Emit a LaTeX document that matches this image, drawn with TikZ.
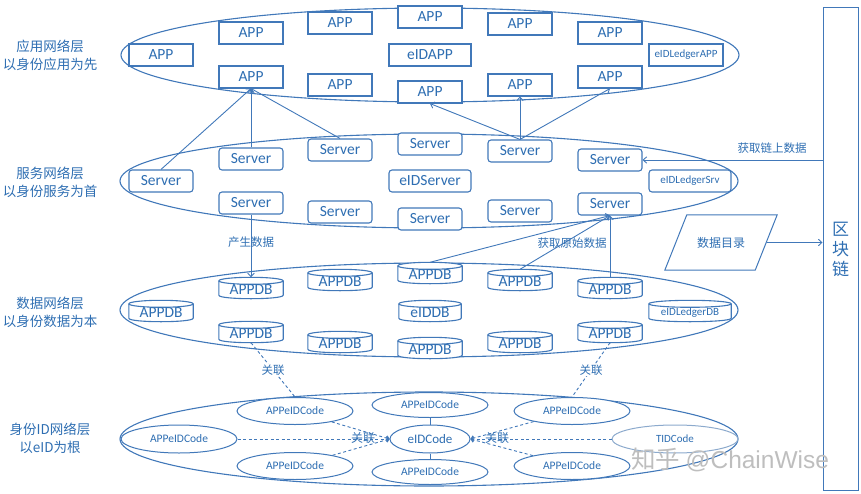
\documentclass[tikz,border=0pt]{standalone}
\usepackage{fontspec}
\setmainfont{Carlito}
\newfontfamily\cjk{Noto Sans CJK SC}
\newfontfamily\wmfont{Liberation Sans}
\usetikzlibrary{shapes.geometric,arrows.meta,calc}
\definecolor{ln}{RGB}{65,120,185}
\definecolor{tx}{RGB}{46,110,178}
\definecolor{lnlight}{RGB}{140,170,205}
\definecolor{wm}{RGB}{190,190,190}

\tikzset{
  layer/.style={ellipse, draw=ln, line width=1.1pt, minimum width=618pt, minimum height=94pt, inner sep=0},
  appbox/.style={rectangle, draw=ln, line width=1.1pt, fill=white, minimum width=64pt, minimum height=22pt, inner sep=0, text=tx, font=\fontsize{15.5}{17}\selectfont},
  smallfont/.style={font=\fontsize{11}{13}\selectfont},
  srvbox/.style={appbox, rounded corners=3pt},
  dbb/.style={rectangle, minimum height=21pt, inner sep=0},
  dbt/.style={text=tx, inner sep=0, font=\fontsize{15.5}{17}\selectfont},
  idel/.style={ellipse, draw=ln, line width=1pt, fill=white, minimum width=116pt, minimum height=27pt, inner sep=0, text=tx, font=\fontsize{11.5}{13}\selectfont},
  lbl/.style={text=tx, font=\cjk\fontsize{13.5}{18}\selectfont, align=center},
  elbl/.style={text=tx, inner sep=1pt, font=\cjk\fontsize{11.5}{13}\selectfont},
  arr/.style={draw=ln, line width=0.9pt, -{Straight Barb[length=3.5pt,width=6.5pt]}},
  dsh/.style={draw=ln, line width=0.9pt, dash pattern=on 3pt off 2.5pt},
  darr/.style={dsh, -{Straight Barb[length=2.5pt,width=5pt]}},
  cylline/.style={draw=ln, line width=1.1pt}
}

\newcommand\dbn[5]{%
  \node[dbb, minimum width=#4pt] (#1) at (#2,#3) {};
  \filldraw[cylline, fill=white] let \p1=(#1.north west), \p2=(#1.south east), \n1={(\x2-\x1)/2} in
    (\x1,\y1-3.5pt) -- (\x1,\y2+3.5pt) .. controls (\x1,\y2-1.17pt) and (\x2,\y2-1.17pt) .. (\x2,\y2+3.5pt)
    -- (\x2,\y1-3.5pt) arc[start angle=0,end angle=180,x radius=\n1,y radius=3.5pt] -- cycle;
  \draw[cylline] let \p1=(#1.north west), \p2=(#1.south east), \n1={(\x2-\x1)/2} in
    (\x1,\y1-3.5pt) arc[start angle=180,end angle=360,x radius=\n1,y radius=3.5pt];
  \node[dbt] (#1t) at ([yshift=-1.5pt]#1.center) {#5};
}

\begin{document}
\begin{tikzpicture}[x=1pt,y=-1pt]
\useasboundingbox (0,0) rectangle (861,494);

% layer labels
\node[lbl] (t1) at (50,55) {应用网络层\\以身份应用为先};
\node[lbl] (t2) at (50,182) {服务网络层\\以身份服务为首};
\node[lbl] (t3) at (50,312) {数据网络层\\以身份数据为本};
\node[lbl] (t4) at (50,438) {身份ID网络层\\以eID为根};

% layer ellipses
\node[layer] (L1) at (430,55) {};
\node[layer] (L2) at (429,181) {};
\node[layer] (L3) at (429,310) {};
\node[layer] (L4) at (429,439) {};

% APP layer
\node[appbox] (A1) at (161,55) {APP};
\node[appbox] (A2t) at (251,33) {APP};
\node[appbox] (A2b) at (251,77) {APP};
\node[appbox] (A3t) at (340,23) {APP};
\node[appbox] (A3b) at (340,85) {APP};
\node[appbox] (A4t) at (430,17) {APP};
\node[appbox, minimum width=82pt] (EA) at (430,55) {eIDAPP};
\node[appbox] (A4b) at (430,92) {APP};
\node[appbox] (A5t) at (520,24) {APP};
\node[appbox] (A5b) at (520,85) {APP};
\node[appbox] (A6t) at (610,33) {APP};
\node[appbox] (A6b) at (610,77) {APP};
\node[appbox, smallfont, minimum width=74pt] (LA) at (686,55) {eIDLedgerAPP};

% Server layer
\node[srvbox] (S1) at (161,181) {Server};
\node[srvbox] (S2t) at (251,159) {Server};
\node[srvbox] (S2b) at (251,203) {Server};
\node[srvbox] (S3t) at (340,150) {Server};
\node[srvbox] (S3b) at (340,212) {Server};
\node[srvbox] (S4t) at (430,144) {Server};
\node[srvbox, minimum width=82pt] (ES) at (430,181) {eIDServer};
\node[srvbox] (S4b) at (430,219) {Server};
\node[srvbox] (S5t) at (520,151) {Server};
\node[srvbox] (S5b) at (520,211) {Server};
\node[srvbox] (S6t) at (610,160) {Server};
\node[srvbox] (S6b) at (610,204) {Server};
\node[srvbox, smallfont, minimum width=82pt] (LS) at (690,181) {eIDLedgerSrv};

% Data layer
\dbn{D1}{161}{311}{64}{APPDB}
\dbn{D2t}{251}{288}{64}{APPDB}
\dbn{D2b}{251}{332}{64}{APPDB}
\dbn{D3t}{340}{280}{64}{APPDB}
\dbn{D3b}{340}{342}{64}{APPDB}
\dbn{D4t}{430}{273}{64}{APPDB}
\dbn{ED}{430}{311}{62}{eIDDB}
\dbn{D4b}{430}{348}{64}{APPDB}
\dbn{D5t}{520}{280}{64}{APPDB}
\dbn{D5b}{520}{342}{64}{APPDB}
\dbn{D6t}{610}{288}{64}{APPDB}
\dbn{D6b}{610}{332}{64}{APPDB}
\dbn{LD}{690}{311}{82}{\fontsize{11}{13}\selectfont eIDLedgerDB}

% ID layer
\node[idel, minimum height=28pt] (C1) at (179,439) {APPeIDCode};
\node[idel] (C2) at (295,411) {APPeIDCode};
\node[idel] (C3) at (295,466) {APPeIDCode};
\node[idel, minimum height=25pt] (C6) at (430,405) {APPeIDCode};
\node[idel, minimum width=80pt, minimum height=28pt, font=\fontsize{13}{15}\selectfont] (E) at (430,439) {eIDCode};
\node[idel, minimum height=25pt] (C7) at (430,472) {APPeIDCode};
\node[idel] (C4) at (572,411) {APPeIDCode};
\node[idel] (C5) at (572,466) {APPeIDCode};
\node[idel, draw=lnlight, minimum width=126pt, minimum height=28pt, font=\fontsize{11}{13}\selectfont] (T) at (675,439) {TIDCode};

% blockchain
\node[rectangle, draw=ln, line width=1pt, minimum width=35pt, minimum height=482pt, inner sep=0,
      text=tx, align=center, font=\cjk\fontsize{17}{20}\selectfont] (BC) at (840.5,249) {区\\块\\链};

% data catalogue (parallelogram)
\node[rectangle, minimum width=90pt, minimum height=55pt, inner sep=0,
      text=tx, font=\cjk\fontsize{12}{14}\selectfont] (DD) at (721,242.5) {数据目录};
\draw[draw=ln, line width=1pt] ([xshift=11pt]DD.north west) -- ([xshift=11pt]DD.north east)
  -- ([xshift=-11pt]DD.south east) -- ([xshift=-11pt]DD.south west) -- cycle;

% arrows server -> app
\draw[arr] (S1.north) -- (A2b.south);
\draw[arr] (S2t.north) -- (A2b.south);
\draw[arr] (S3t.north) -- (A2b.south);
\draw[arr] (S5t.north) -- (A4b.south);
\draw[arr] (S5t.north) -- (A5b.south);
\draw[arr] (S5t.north) -- (A6b.south);

% data arrows
\draw[arr] (S2b.south) -- (D2t.north);
\node[elbl] (l1) at (251,242) {产生数据};
\draw[arr] (D4t.north) -- (S6b.south);
\draw[arr] (D5t.north) -- (S6b.south);
\draw[arr] (D6t.north) -- (S6b.south);
\node[elbl] (l2) at (572,243) {获取原始数据};

% blockchain arrows
\draw[arr] (BC.west |- S6t.east) -- (S6t.east);
\node[elbl] (l3) at (772,148) {获取链上数据};
\draw[arr] ([xshift=1pt]DD.east) -- (BC.west |- DD.east);

% association dashed lines
\draw[dsh] (D2b.south) -- node[elbl, fill=white] (l4) {关联} (C2.north);
\draw[dsh] (D6b.south) -- node[elbl, fill=white] (l5) {关联} (C4.north);

\draw[darr] (C1) -- (E.west);
\draw[darr] (C2) -- (E.west);
\draw[darr] (C3) -- (E.west);
\draw[darr] (T) -- (E.east);
\draw[darr] (C4) -- (E.east);
\draw[darr] (C5) -- (E.east);
\node[elbl, font=\cjk\fontsize{12}{14}\selectfont] (l6) at (363,438) {关联};
\node[elbl, font=\cjk\fontsize{12}{14}\selectfont] (l7) at (497,438) {关联};

\draw[draw=ln, line width=1pt] (C6.south) -- (E.north);
\draw[draw=ln, line width=1pt] (E.south) -- (C7.north);

% watermark
\node[anchor=west, text=wm, inner sep=0] (WM) at (631,460) {\cjk\fontsize{24.5}{26}\selectfont 知乎\ \wmfont @ChainWise};
\end{tikzpicture}
\end{document}
